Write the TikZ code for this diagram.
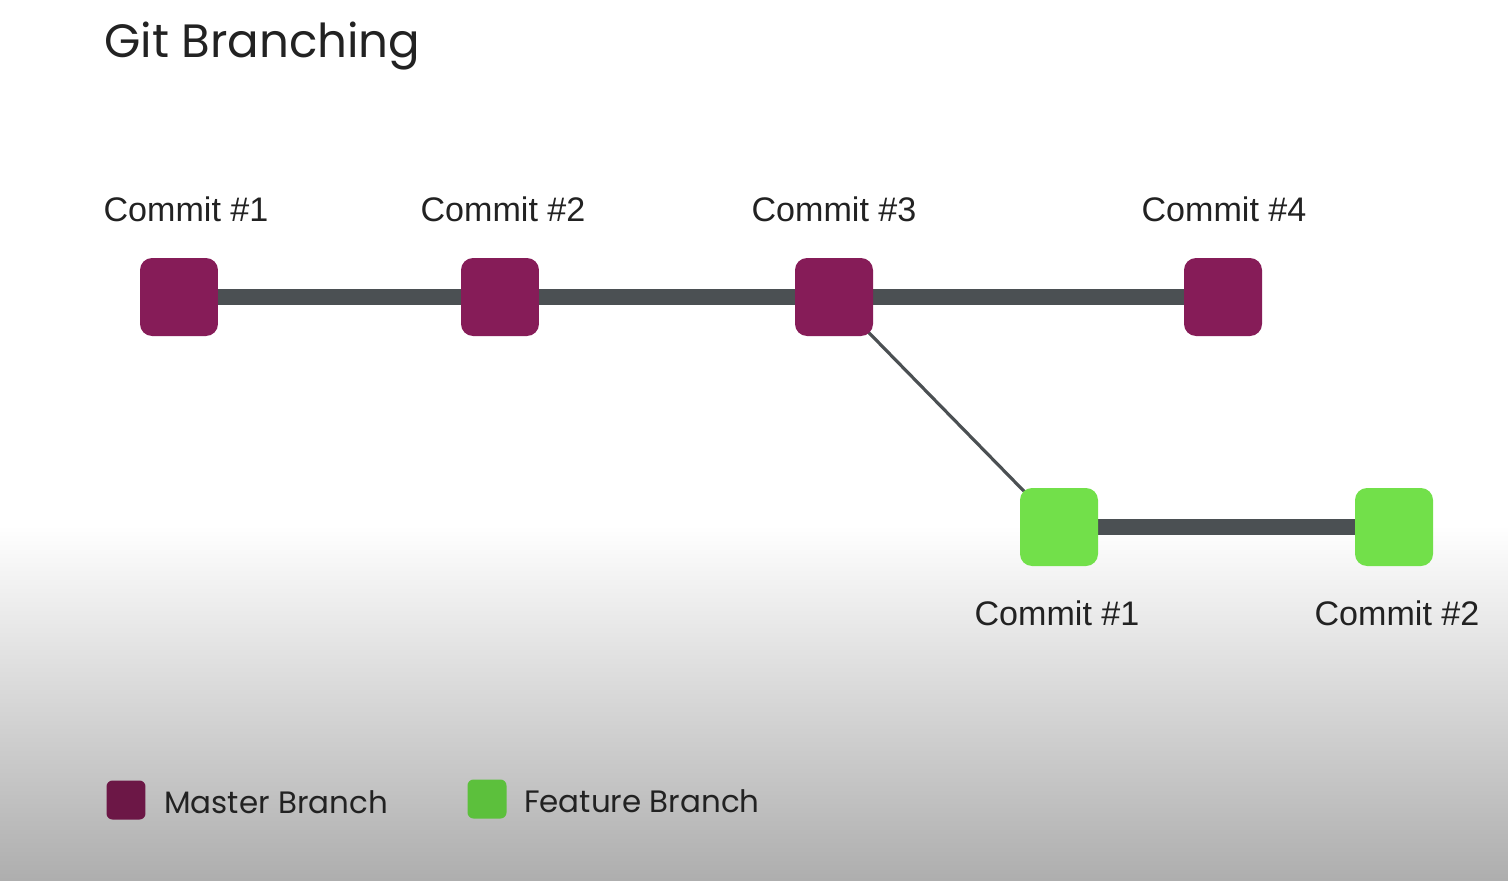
\documentclass[tikz,border=0pt]{standalone}
\usepackage{fontspec}
\setmainfont{Liberation Sans}
\newfontfamily\titlefont{Poppins}
\usetikzlibrary{backgrounds}
\definecolor{master}{HTML}{861C58}
\definecolor{feature}{HTML}{72E04A}
\definecolor{masterleg}{HTML}{6C1746}
\definecolor{featureleg}{HTML}{5CC03C}
\definecolor{linegray}{HTML}{4B5053}
\definecolor{bggray}{HTML}{AEAEAE}
\definecolor{txt}{HTML}{222222}
\tikzset{
  commit/.style={rounded corners=0.24cm, minimum size=1.56cm, inner sep=0pt},
  mcommit/.style={commit, fill=master},
  fcommit/.style={commit, fill=feature},
  clabel/.style={anchor=base, font=\fontsize{19.4pt}{22pt}\selectfont, text=txt},
  branchline/.style={draw=linegray, line width=9.6pt},
  forkline/.style={draw=linegray, line width=1.8pt},
  legbox/.style={rounded corners=0.12cm, minimum size=0.78cm, inner sep=0pt},
  legtext/.style={anchor=base west, font=\titlefont\fontsize{17.6pt}{21pt}\selectfont, text=txt},
}
\begin{document}
\begin{tikzpicture}[x=0.02cm, y=-0.02cm]
\useasboundingbox (0,0) rectangle (1508,880);
\begin{scope}[on background layer]
  \fill[white] (0,0) rectangle (1508,880);
  \shade[top color=white, bottom color=bggray] (0,525) rectangle (1508,880);
\end{scope}
\node[anchor=base west, font=\titlefont\fontsize{26.6pt}{32pt}\selectfont, text=txt] (title) at (98,57) {Git Branching};
% master commits
\node[mcommit] (m1) at (179,297) {};
\node[mcommit] (m2) at (500,297) {};
\node[mcommit] (m3) at (834,297) {};
\node[mcommit] (m4) at (1223,297) {};
% feature commits
\node[fcommit] (f1) at (1059,527) {};
\node[fcommit] (f2) at (1394,527) {};
% labels
\node[clabel] (lm1) at (186,221) {Commit \#1};
\node[clabel] (lm2) at (503,221) {Commit \#2};
\node[clabel] (lm3) at (834,221) {Commit \#3};
\node[clabel] (lm4) at (1224,221) {Commit \#4};
\node[clabel] (lf1) at (1057,625) {Commit \#1};
\node[clabel] (lf2) at (1397,625) {Commit \#2};
% connectors
\begin{scope}[on background layer]
  \draw[branchline] (m1.center) -- (m2.center) -- (m3.center) -- (m4.center);
  \draw[branchline] (f1.center) -- (f2.center);
  \draw[forkline] (m3.center) -- (f1.center);
\end{scope}
% legend
\node[legbox, fill=masterleg] (legm) at (126,800) {};
\node[legtext] (legmt) at (158,813) {Master Branch};
\node[legbox, fill=featureleg] (legf) at (487,799) {};
\node[legtext] (legft) at (518,812) {Feature Branch};
\end{tikzpicture}
\end{document}
